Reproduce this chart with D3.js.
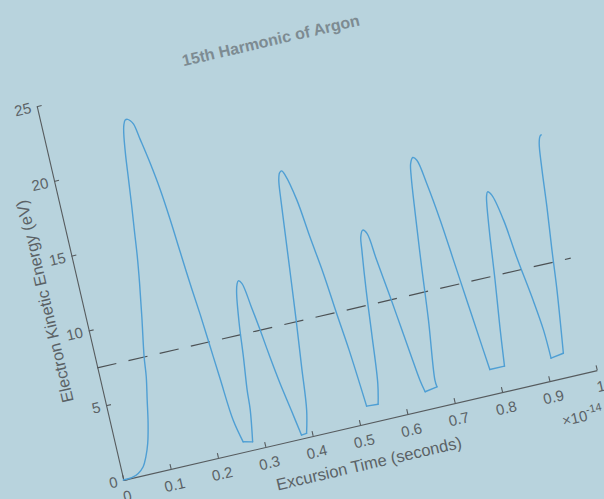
<!DOCTYPE html>
<html>
<head>
<meta charset="utf-8">
<script src="https://cdn.jsdelivr.net/npm/d3@7"></script>
<style>
  body { margin: 0; background: #b8d3dd; }
  svg { display: block; font-family: "Liberation Sans", Arial, Helvetica, sans-serif; }
</style>
</head>
<body>
<svg id="chart" width="604" height="499"></svg>
<script>
// excursion time (units of 1e-14 s) and kinetic energy (eV)
const excursionTime = [0, 0.018, 0.033, 0.046, 0.056, 0.066, 0.076, 0.085, 0.094, 0.099,
  0.113, 0.124, 0.132, 0.138, 0.144, 0.150, 0.156, 0.162, 0.166, 0.171, 0.176,
  0.181, 0.186, 0.192, 0.201, 0.209, 0.215, 0.220, 0.225, 0.231, 0.236, 0.241, 0.248, 0.258,
  0.277, 0.287, 0.290, 0.298, 0.305, 0.314, 0.319, 0.323,
  0.329, 0.337, 0.344, 0.351, 0.359, 0.369, 0.378,
  0.389, 0.400, 0.410, 0.420, 0.430, 0.439, 0.446, 0.451, 0.456, 0.461,
  0.466, 0.478, 0.487, 0.497, 0.505, 0.513, 0.522,
  0.546, 0.555, 0.566, 0.575, 0.585, 0.589, 0.596,
  0.603, 0.610, 0.620, 0.627, 0.634, 0.641, 0.646,
  0.672, 0.671, 0.686, 0.697, 0.709, 0.718, 0.723, 0.730,
  0.737, 0.746, 0.756, 0.764, 0.772, 0.780, 0.786,
  0.817, 0.826, 0.838, 0.848, 0.857, 0.860, 0.864,
  0.871, 0.883, 0.892, 0.905, 0.912, 0.914,
  0.941, 0.958, 0.966, 0.976, 0.984, 0.990, 0.995, 0.998];
const kineticEnergy = [0, 0.02, 0.20, 0.55, 1.14, 1.97, 3.23, 4.72, 6.22, 7.52,
  10.09, 12.24, 14.01, 15.64, 17.22, 18.96, 20.70, 22.0, 22.52, 22.82, 22.83,
  22.70, 22.44, 21.39, 19.72, 17.86, 15.81, 13.63, 11.52, 9.40, 7.23, 5.05, 2.19, 0.66,
  0.52, 2.58, 3.88, 6.06, 8.23, 10.20, 10.76, 10.95,
  10.74, 9.12, 7.50, 5.66, 3.83, 1.97, 0.23,
  0.26, 1.74, 4.56, 7.39, 10.44, 13.27, 15.45, 16.75, 17.20, 17.29,
  16.97, 15.21, 12.69, 10.17, 7.43, 4.92, 1.11,
  1.06, 2.39, 5.65, 8.48, 11.08, 11.94, 12.34,
  12.07, 10.23, 7.70, 5.76, 3.81, 1.97, 1.16,
  1.30, 1.75, 5.66, 9.14, 12.63, 15.01, 15.86, 16.21,
  15.98, 14.36, 11.83, 9.10, 6.36, 3.63, 1.62,
  1.62, 4.18, 7.21, 10.04, 12.20, 12.67, 12.93,
  12.66, 10.90, 8.37, 5.38, 3.33, 1.44,
  1.57, 5.80, 8.28, 11.10, 13.72, 15.24, 15.69, 15.76];

// harmonic energy minus ionization potential
const refTime = [0, 1];
const refEnergy = [7.5, 7.5];

const xTicks = [0, 0.1, 0.2, 0.3, 0.4, 0.5, 0.6, 0.7, 0.8, 0.9, 1];
const yTicks = [0, 5, 10, 15, 20, 25];

const axisColor = '#565b5e';
const textColor = '#5b6266';

let svg = d3.select('#chart');
svg.append('rect').attr('width', 604).attr('height', 499).attr('fill', '#b8d3dd');

// the whole figure is seen tilted
let plot = svg.append('g')
    .attr('transform', 'translate(123.3,480) rotate(-13.05)');

let x = d3.scaleLinear().domain([0, 1]).range([0, 486]);
let y = d3.scaleLinear().domain([0, 25]).range([0, -383.7]);

let xAxis = plot.append('g')
    .call(d3.axisBottom(x).tickValues(xTicks).tickSize(-5).tickSizeOuter(0)
      .tickPadding(11).tickFormat(d3.format('~g')));

let yAxis = plot.append('g')
    .call(d3.axisLeft(y).tickValues(yTicks).tickSize(-5).tickSizeOuter(0)
      .tickPadding(6));

[xAxis, yAxis].forEach(function (a) {
  a.select('.domain').attr('stroke', axisColor).attr('stroke-width', 1.1);
  a.selectAll('.tick line').attr('stroke', axisColor).attr('stroke-width', 1.1);
  a.selectAll('.tick text').attr('fill', textColor)
      .attr('font-size', 15).attr('font-family', null);
});

// reference energy
plot.append('path')
    .attr('d', d3.line()(d3.zip(refTime, refEnergy).map(d => [x(d[0]), y(d[1])])))
    .attr('fill', 'none')
    .attr('stroke', '#4c5154')
    .attr('stroke-width', 1.2)
    .attr('stroke-dasharray', '19.5,12.5');

// smooth arcs, straight short bottoms between them
let pts = d3.zip(excursionTime, kineticEnergy);
function isBottom(a, b) {
  let dt = b[0] - a[0], de = Math.abs(b[1] - a[1]);
  return a[1] > 0.1 && b[1] > 0.1 && a[1] < 2 && b[1] < 2 && dt > 0.008 && de / dt < 8;
}
let pieces = [], cur = [pts[0]];
for (let i = 1; i < pts.length; i++) {
  if (isBottom(pts[i - 1], pts[i])) {
    pieces.push({smooth: true, p: cur});
    pieces.push({smooth: false, p: [pts[i - 1], pts[i]]});
    cur = [pts[i]];
  } else {
    cur.push(pts[i]);
  }
}
pieces.push({smooth: true, p: cur});

let smoothLine = d3.line()
    .x(d => x(d[0]))
    .y(d => y(d[1]))
    .curve(d3.curveCatmullRom.alpha(0.5));
let straightLine = d3.line()
    .x(d => x(d[0]))
    .y(d => y(d[1]));

plot.selectAll('.trace')
    .data(pieces)
    .enter()
    .append('path')
    .attr('class', 'trace')
    .attr('d', d => d.smooth ? smoothLine(d.p) : straightLine(d.p))
    .attr('fill', 'none')
    .attr('stroke', '#4f9fd4')
    .attr('stroke-width', 1.4)
    .attr('stroke-linecap', 'round')
    .attr('stroke-linejoin', 'round');

// labels
plot.append('text')
    .attr('x', x(0.5)).attr('y', 45)
    .attr('text-anchor', 'middle')
    .attr('font-size', 16.5)
    .attr('fill', textColor)
    .text('Excursion Time (seconds)');

plot.append('text')
    .attr('transform', 'translate(-30.5,' + y(12.5) + ') rotate(-90)')
    .attr('text-anchor', 'middle')
    .attr('font-size', 16.5)
    .attr('fill', textColor)
    .text('Electron Kinetic Energy (eV)');

let expo = plot.append('text')
    .attr('x', 441).attr('y', 47)
    .attr('font-size', 15)
    .attr('fill', textColor);
expo.append('tspan').text('\u00d710');
expo.append('tspan').attr('dy', -7).attr('font-size', 11).text('-14');

plot.append('text')
    .attr('x', x(0.5)).attr('y', -389.5)
    .attr('text-anchor', 'middle')
    .attr('font-size', 16)
    .attr('font-weight', 'bold')
    .attr('fill', '#7d8b92')
    .text('15th Harmonic of Argon');
</script>
</body>
</html>
